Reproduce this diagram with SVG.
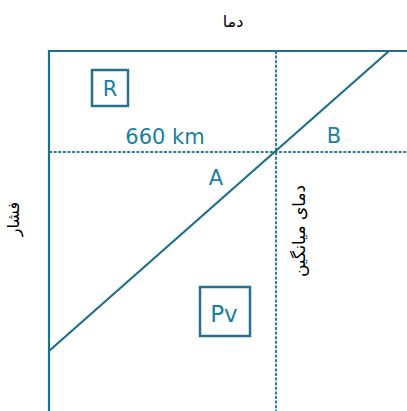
<svg xmlns="http://www.w3.org/2000/svg" width="407" height="411" viewBox="0 0 407 411">
<style>
.ax{stroke:#1e6f8a;stroke-width:2.2;fill:none}
.dot{stroke:#2a7fa2;stroke-width:2;stroke-dasharray:3 1.6;fill:none}
.box{fill:#fff;stroke:#26728e;stroke-width:2.5}
.lbl{font-family:"DejaVu Sans",sans-serif;fill:#1c7fa4;font-size:21px}
.fa{font-family:"DejaVu Sans","Noto Sans",sans-serif;fill:#000;font-size:16px}
</style>
<rect width="407" height="411" fill="#fff"/>
<g id="connectors">
<line class="dot" x1="276" y1="51" x2="276" y2="411"/>
<line class="dot" x1="49" y1="152" x2="407" y2="152"/>
<line class="ax" x1="49" y1="51" x2="407" y2="51"/>
<line class="ax" x1="49" y1="50" x2="49" y2="411"/>
<line class="ax" x1="49" y1="351" x2="389" y2="51" stroke="#15607a"/>
</g>
<g id="title"><text class="fa" x="233" y="27" text-anchor="middle" direction="rtl">دما</text></g>
<g id="pressure"><text class="fa" transform="translate(19,219) rotate(-90)" text-anchor="middle" direction="rtl">فشار</text></g>
<g id="avgtemp"><text class="fa" transform="translate(305,231) rotate(-90)" text-anchor="middle" direction="rtl" style="font-size:17px">دمای میانگین</text></g>
<g id="R"><rect class="box" x="92" y="70" width="36" height="36"/><text class="lbl" x="110" y="96" text-anchor="middle">R</text></g>
<g id="Pv"><rect class="box" x="200" y="287" width="50" height="49"/><text class="lbl" x="224" y="322" text-anchor="middle" style="font-size:23px">Pv</text></g>
<g id="km"><text class="lbl" x="165" y="144" text-anchor="middle">660 km</text></g>
<g id="A"><text class="lbl" x="216" y="185" text-anchor="middle">A</text></g>
<g id="B"><text class="lbl" x="334" y="143" text-anchor="middle">B</text></g>
</svg>
